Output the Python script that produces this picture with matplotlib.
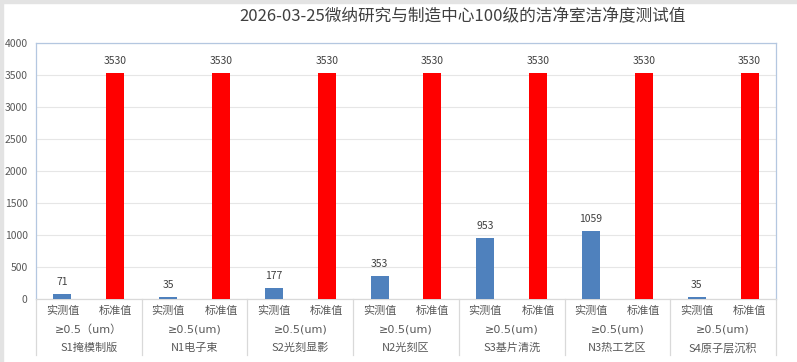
import matplotlib
matplotlib.use("Agg")
import matplotlib.pyplot as plt
import matplotlib.transforms as mtransforms
from matplotlib.patches import Rectangle
import numpy as np

plt.rcParams['font.family'] = ['Noto Sans CJK SC', 'DejaVu Sans']

title = "2026-03-25微纳研究与制造中心100级的洁净室洁净度测试值"
locations = ["S1掩模制版", "N1电子束", "S2光刻显影", "N2光刻区", "S3基片清洗", "N3热工艺区", "S4原子层沉积"]
particle_sizes = ["≥0.5（um）", "≥0.5(um)", "≥0.5(um)", "≥0.5(um)", "≥0.5(um)", "≥0.5(um)", "≥0.5(um)"]
series_names = ["实测值", "标准值"]
measured = [71, 35, 177, 353, 953, 1059, 35]
standard = [3530, 3530, 3530, 3530, 3530, 3530, 3530]
y_ticks = [0, 500, 1000, 1500, 2000, 2500, 3000, 3500, 4000]

blue = "#4F81BD"
red = "#FF0000"
txt = "#595959"

fig = plt.figure(figsize=(7.97, 3.62), dpi=100)
fig.patch.set_facecolor("white")
# thin gray frame at the left and top edge
fig.patches.append(Rectangle((0, 0), 2.5/797, 1, transform=fig.transFigure, color="#E3E3E3", zorder=0))
fig.patches.append(Rectangle((0, 1-2.5/362), 1, 2.5/362, transform=fig.transFigure, color="#E3E3E3", zorder=0))

ax = fig.add_axes([36/797, 1-299/362, 740/797, 256/362])
x = np.arange(len(locations))
w = 0.17
b1 = ax.bar(x - 0.25, measured, width=w, color=blue, zorder=3)
b2 = ax.bar(x + 0.25, standard, width=w, color=red, zorder=3)

for rect, v in zip(list(b1) + list(b2), measured + standard):
    ax.text(rect.get_x() + rect.get_width()/2, v + 110, str(v), ha="center", va="bottom",
            fontsize=7.5, color="#404040")

ax.set_xlim(-0.5, len(locations) - 0.5)
ax.set_ylim(0, 4000)
ax.set_yticks(y_ticks)
ax.set_yticklabels([str(t) for t in y_ticks], fontsize=7.5, color=txt)
ax.tick_params(axis="y", length=0, pad=6)
ax.set_xticks([])
ax.grid(axis="y", color="#E6E6E6", linewidth=0.8, zorder=0)
for s in ["left", "top", "right"]:
    ax.spines[s].set_color("#B4C7E0")
    ax.spines[s].set_linewidth(0.9)
ax.spines["bottom"].set_color("#D9D9D9")
ax.spines["bottom"].set_linewidth(0.9)

trans = mtransforms.blended_transform_factory(ax.transData, ax.transAxes)
for i in range(len(locations)):
    ax.text(i - 0.25, -0.047, series_names[0], transform=trans, ha="center", va="center", fontsize=8, color=txt)
    ax.text(i + 0.25, -0.047, series_names[1], transform=trans, ha="center", va="center", fontsize=8, color=txt)
    ax.text(i, -0.121, particle_sizes[i], transform=trans, ha="center", va="center", fontsize=8, color=txt,
            family=['DejaVu Sans', 'Noto Sans CJK SC'])
    ax.text(i, -0.191, locations[i], transform=trans, ha="center", va="center", fontsize=8, color=txt)
for b in np.arange(-0.5, len(locations), 1.0):
    ax.plot([b, b], [0, -0.22], transform=trans, color="#D9D9D9", linewidth=0.9, clip_on=False)

fig.text(462/797, 1-17/362, title, ha="center", va="center", fontsize=12, color="#404040")

fig.savefig("out.png", dpi=100)
